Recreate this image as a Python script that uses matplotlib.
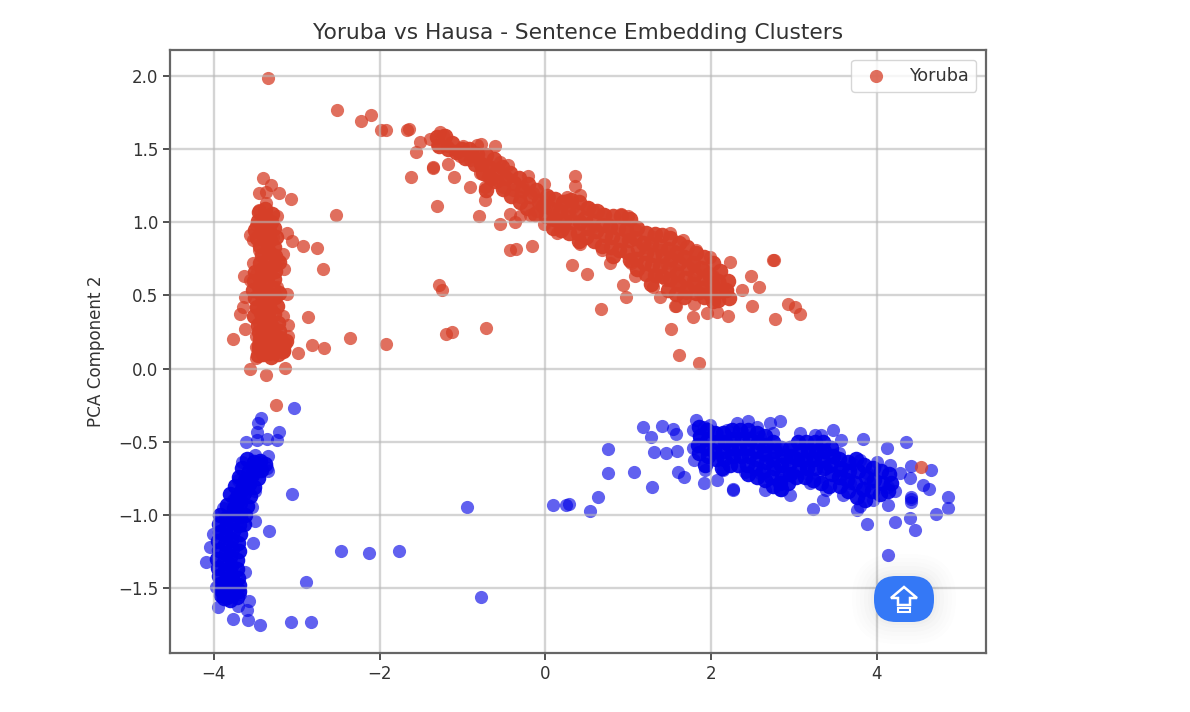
#Yoruba vs Hausa PCA scatter
import matplotlib
matplotlib.use("Agg")
import matplotlib.pyplot as plt
from matplotlib.patches import FancyBboxPatch, Polygon
from matplotlib.transforms import IdentityTransform

#Yoruba
yoruba_x = [-3.35, -2.51, -2.23, -2.10, -1.98, -1.92, -1.67, -1.65, -1.56, -1.615, -1.355, -1.35, -1.10, -0.91, -1.31,
            -0.80, -0.73, -0.61, -0.55, -0.43, -0.35, -0.155, -0.37, -1.28, -1.245, -1.20, -1.13, -0.72,
            -1.515, -1.39, -1.27, -1.23, -1.31, -1.19, -1.07, -0.99, -0.83, -0.77, -1.03, -0.91, -1.18, -0.75,
            -0.67, -0.55, -0.45, -0.79, -0.69, -0.57, -0.47, -0.73, -0.51, -0.39, -0.21, -0.27, -0.02, -0.15,
            -0.07, -0.31, -0.43, -0.31, -0.19, -0.10, 0.01, -0.01, 0.14, 0.26, 0.22, 0.14, 0.30, 0.10, 0.05,
            0.36, 0.36, 0.42, 0.26, 0.34, 0.50, 0.58, 0.70, 0.92, 1.00, 0.42, 0.58, 0.78, 0.98, 1.10, 0.175,
            0.42, 0.68, 0.78, 1.04, 0.32, 0.50, 0.94, 0.98, 0.67, 1.08, 1.50, 1.66, 1.82, 1.99,
            1.30, 1.38, 1.22, 1.54, 1.70, 1.46, 1.58, 1.78, 1.91, 2.03, 1.34, 1.46, 1.30, 1.58, 1.78, 1.95, 2.11,
            2.19, 2.03, 1.87, 1.70, 1.38, 1.56, 1.58, 1.80, 1.78, 1.95, 2.07, 2.21, 2.23, 2.48, 2.58, 2.37, 2.49,
            2.76, 2.75, 2.77, 2.93, 3.01, 3.08, 1.52, 1.62, 1.86,
            -3.41, -3.31, -3.45, -3.37, -3.22, -3.07, -3.37, -3.45, -3.24, -3.37, -3.49, -3.32, -3.57, -3.12,
            -3.06, -2.92, -2.76, -2.68, -2.53, -3.53, -3.41, -3.29, -3.45, -3.17, -3.23, -3.525, -3.15, -3.64,
            -3.49, -3.33, -3.41, -3.57, -3.24, -3.12, -3.625, -3.46, -3.32, -3.65, -3.69, -3.49, -3.33, -3.17,
            -2.87, -3.10, -3.62, -3.45, -3.29, -3.77, -3.49, -3.10, -3.20, -3.32, -3.49, -2.82, -2.98, -2.67,
            -2.36, -1.925, -3.49, -3.57, -3.14, -3.37, -3.25, 4.54]
yoruba_y = [1.99, 1.765, 1.695, 1.735, 1.63, 1.63, 1.63, 1.64, 1.48, 1.31, 1.37, 1.38, 1.31, 1.24, 1.11,
            1.04, 1.15, 1.52, 0.99, 0.81, 0.82, 0.835, 1.00, 0.575, 0.537, 0.237, 0.253, 0.275,
            1.55, 1.57, 1.62, 1.60, 1.53, 1.52, 1.49, 1.52, 1.53, 1.535, 1.45, 1.425, 1.40, 1.40,
            1.38, 1.415, 1.39, 1.335, 1.31, 1.28, 1.31, 1.24, 1.24, 1.22, 1.32, 1.24, 1.26, 1.20,
            1.15, 1.175, 1.06, 1.04, 1.05, 1.08, 1.11, 0.99, 1.08, 1.15, 0.97, 0.925, 1.04, 1.015, 1.175,
            1.316, 1.245, 1.19, 1.175, 1.105, 1.105, 1.085, 1.06, 1.06, 1.04, 0.99, 0.97, 0.98, 0.97, 0.945, 1.015,
            0.855, 0.81, 0.72, 0.72, 0.71, 0.65, 0.575, 0.49, 0.41, 0.63, 0.925, 0.88, 0.81, 0.765,
            0.90, 0.81, 0.83, 0.81, 0.765, 0.72, 0.675, 0.70, 0.675, 0.63, 0.63, 0.605, 0.56, 0.58, 0.605, 0.58, 0.58,
            0.54, 0.515, 0.515, 0.515, 0.49, 0.43, 0.43, 0.445, 0.355, 0.38, 0.39, 0.36, 0.73, 0.63, 0.56, 0.54, 0.43,
            0.74, 0.74, 0.34, 0.44, 0.42, 0.375, 0.27, 0.093, 0.04,
            1.30, 1.255, 1.20, 1.21, 1.20, 1.157, 1.13, 1.085, 1.04, 1.04, 0.98, 0.98, 0.91, 0.93,
            0.875, 0.835, 0.825, 0.68, 1.05, 0.88, 0.90, 0.90, 0.81, 0.785, 0.74, 0.72, 0.68, 0.635,
            0.65, 0.65, 0.58, 0.605, 0.56, 0.51, 0.49, 0.515, 0.49, 0.42, 0.37, 0.42, 0.40, 0.36,
            0.35, 0.30, 0.27, 0.31, 0.29, 0.20, 0.22, 0.22, 0.17, 0.14, 0.15, 0.16, 0.11, 0.14,
            0.21, 0.17, 0.07, 0.00, 0.006, -0.045, -0.25, -0.675]

#the thick part of the upper arc, same line structure in both lists
arc_x = [-1.31, -1.28, -1.21, -1.18, -1.12, -1.08, -1.01, -0.97, -0.92, -0.88, -0.85,
         -0.82, -0.78, -0.75, -0.72, -0.68, -0.66, -0.71, -0.62, -0.58, -0.61,
         -0.52, -0.48, -0.51, -0.42, -0.38, -0.41, -0.32, -0.28, -0.31, -0.21, -0.18, -0.22,
         -0.11, -0.08, -0.12, 0.02, -0.03, 0.01, 0.12, 0.08, 0.11, 0.09, 0.21, 0.18, 0.22, 0.19,
         0.31, 0.28, 0.32, 0.29, 0.41, 0.38, 0.42, 0.39, 0.41, 0.51, 0.48, 0.52, 0.49,
         0.62, 0.58, 0.61, 0.59, 0.71, 0.68, 0.72, 0.69, 0.82, 0.78, 0.81, 0.79, 0.82,
         0.91, 0.88, 0.92, 0.89, 1.02, 0.98, 1.01, 0.99, 1.02, 1.11, 1.08, 1.12, 1.09, 1.11,
         1.21, 1.18, 1.22, 1.19, 1.21, 1.32, 1.28, 1.31, 1.29, 1.32, 1.28,
         1.41, 1.38, 1.42, 1.39, 1.41, 1.51, 1.48, 1.52, 1.49, 1.51, 1.48,
         1.62, 1.58, 1.61, 1.59, 1.62, 1.58, 1.71, 1.68, 1.72, 1.69, 1.71, 1.68,
         1.82, 1.78, 1.81, 1.79, 1.82, 1.91, 1.88, 1.92, 1.89, 1.91,
         2.02, 1.98, 2.01, 1.99, 2.02, 2.11, 2.08, 2.12, 2.09, 2.21, 2.18, 2.22]
arc_y = [1.58, 1.52, 1.59, 1.50, 1.54, 1.48, 1.50, 1.44, 1.50, 1.46, 1.40,
         1.47, 1.40, 1.34, 1.46, 1.38, 1.30, 1.22, 1.43, 1.36, 1.28,
         1.38, 1.30, 1.23, 1.34, 1.27, 1.18, 1.30, 1.22, 1.14, 1.26, 1.18, 1.10,
         1.22, 1.14, 1.06, 1.18, 1.11, 1.04, 1.16, 1.09, 1.02, 0.96, 1.14, 1.08, 1.01, 0.95,
         1.15, 1.08, 1.00, 0.93, 1.14, 1.07, 1.00, 0.93, 0.87, 1.10, 1.03, 0.96, 0.90,
         1.08, 1.01, 0.94, 0.87, 1.05, 0.98, 0.91, 0.84, 1.04, 0.97, 0.90, 0.83, 0.77,
         1.04, 0.96, 0.88, 0.81, 1.02, 0.95, 0.88, 0.80, 0.74, 0.96, 0.89, 0.82, 0.75, 0.68,
         0.93, 0.86, 0.79, 0.72, 0.65, 0.92, 0.85, 0.78, 0.71, 0.64, 0.58,
         0.91, 0.84, 0.77, 0.70, 0.63, 0.89, 0.82, 0.75, 0.68, 0.61, 0.54,
         0.86, 0.79, 0.72, 0.65, 0.58, 0.51, 0.83, 0.76, 0.69, 0.62, 0.55, 0.49,
         0.79, 0.72, 0.65, 0.58, 0.52, 0.76, 0.69, 0.62, 0.55, 0.49,
         0.72, 0.65, 0.58, 0.51, 0.46, 0.67, 0.60, 0.53, 0.47, 0.60, 0.54, 0.48]

#the thick part of the left column
column_x = [-3.46, -3.38, -3.30, -3.47, -3.39, -3.31, -3.50, -3.42, -3.34, -3.27, -3.48, -3.40, -3.32, -3.25,
            -3.44, -3.36, -3.28, -3.42, -3.34, -3.26, -3.44, -3.36, -3.28, -3.21, -3.50, -3.42, -3.34, -3.26,
            -3.52, -3.44, -3.36, -3.28, -3.53, -3.45, -3.37, -3.29, -3.22, -3.50, -3.42, -3.34, -3.26,
            -3.48, -3.40, -3.32, -3.24, -3.51, -3.43, -3.35, -3.27, -3.47, -3.39, -3.31, -3.23,
            -3.46, -3.38, -3.30, -3.22, -3.44, -3.36, -3.28, -3.20, -3.46, -3.38, -3.30, -3.22, -3.15,
            -3.47, -3.39, -3.31, -3.23, -3.16, -3.45, -3.37, -3.29, -3.21, -3.13, -3.41, -3.33, -3.25, -3.17]
column_y = [1.07, 1.09, 1.06, 1.01, 1.03, 1.00, 0.95, 0.97, 0.94, 0.96, 0.89, 0.91, 0.88, 0.90,
            0.84, 0.86, 0.83, 0.78, 0.80, 0.77, 0.72, 0.74, 0.71, 0.73, 0.66, 0.68, 0.65, 0.67,
            0.60, 0.62, 0.59, 0.61, 0.54, 0.56, 0.53, 0.55, 0.52, 0.48, 0.50, 0.47, 0.49,
            0.42, 0.44, 0.41, 0.43, 0.36, 0.38, 0.35, 0.37, 0.30, 0.32, 0.29, 0.31,
            0.25, 0.27, 0.24, 0.26, 0.20, 0.22, 0.19, 0.21, 0.14, 0.16, 0.13, 0.15, 0.17,
            0.09, 0.11, 0.08, 0.10, 0.12, 0.16, 0.18, 0.12, 0.14, 0.19, 0.10, 0.11, 0.12, 0.13]

#Hausa
hausa_x = [-3.035, -3.43, -3.47, -3.22, -3.48, -3.365, -3.24, -3.615, -3.48, -3.505, -3.345, -3.655, -3.445, -3.365,
           -3.465, -3.345, -3.71, -3.565, -3.645, -3.505, -3.055, -3.69, -3.77, -3.89, -3.73, -3.545,
           -3.50, -3.33, -3.53, -3.63, -4.09, -4.01, -4.05, -3.97, -3.95, -3.87, -3.69, -3.58, -3.71, -3.60,
           -3.77, -3.59, -3.44, -3.07, -2.83, -2.89, -2.47, -2.13, -1.765, -0.94, -0.78, 0.095, 0.255,
           0.29, 0.54, 0.64, 0.76, 0.76, 1.07, 1.18, 1.28, 1.41, 1.54, 1.58, 1.31, 1.455, 1.59, 1.29, 1.60, 1.67,
           1.91, 2.07, 2.27, 2.27, 1.82, 1.78, 1.91, 1.99, 1.86, 1.78, 1.80, 1.93, 1.94, 2.07, 2.19, 2.31, 2.45,
           2.55, 2.71, 2.83, 2.07, 2.23, 2.39, 2.59, 2.75, 2.15, 2.27, 2.41, 2.59, 2.43, 2.63, 2.79, 2.75, 2.83,
           2.83, 2.65, 2.96, 3.07, 3.25, 3.33, 3.47, 3.57, 3.83, 2.99, 3.15, 3.31, 3.43, 2.91, 3.07, 3.23, 3.39,
           2.99, 3.15, 3.31, 3.19, 3.39, 3.23, 3.35, 3.59, 3.55, 3.55, 3.72, 3.80, 3.88, 3.68, 3.84, 3.76, 3.80,
           3.88, 3.96, 4.00, 3.92, 4.12, 4.36, 4.16, 4.14, 4.14, 4.22, 4.22, 4.28, 4.40, 4.42, 4.66, 4.56, 4.63,
           4.42, 4.42, 4.42, 4.40, 4.46, 4.86, 4.86, 4.72, 4.14]
hausa_y = [-0.27, -0.335, -0.37, -0.43, -0.43, -0.48, -0.49, -0.505, -0.49, -0.59, -0.595, -0.64, -0.635, -0.68,
           -0.69, -0.70, -0.76, -0.75, -0.81, -0.84, -0.86, -0.89, -0.90, -0.955, -0.94, -0.945,
           -1.04, -1.11, -1.19, -1.39, -1.32, -1.13, -1.22, -1.49, -1.63, -1.54, -1.54, -1.59, -1.62, -1.65,
           -1.71, -1.72, -1.75, -1.735, -1.73, -1.46, -1.245, -1.26, -1.245, -0.945, -1.56, -0.93, -0.93,
           -0.925, -0.97, -0.88, -0.55, -0.715, -0.705, -0.40, -0.47, -0.39, -0.41, -0.45, -0.57, -0.575, -0.56, -0.81, -0.71, -0.74,
           -0.78, -0.76, -0.83, -0.82, -0.35, -0.42, -0.40, -0.385, -0.465, -0.545, -0.625, -0.69, -0.53, -0.44, -0.42, -0.375, -0.36,
           -0.40, -0.375, -0.355, -0.58, -0.49, -0.44, -0.465, -0.44, -0.69, -0.56, -0.705, -0.715, -0.53, -0.555, -0.535, -0.65, -0.76,
           -0.83, -0.83, -0.865, -0.44, -0.455, -0.455, -0.42, -0.49, -0.48, -0.535, -0.535, -0.555, -0.60, -0.625, -0.625, -0.625, -0.67,
           -0.715, -0.715, -0.74, -0.785, -0.83, -0.96, -0.90, -0.865, -0.58, -0.69, -0.65, -0.625, -0.715, -0.785, -0.83, -0.965, -0.94,
           -1.06, -0.90, -0.635, -0.785, -0.54, -0.505, -0.66, -0.81, -0.93, -0.84, -1.05, -0.715, -0.75, -0.665, -0.69, -0.795, -0.82,
           -0.875, -0.89, -0.91, -1.02, -1.10, -0.875, -0.955, -0.995, -1.275]

#the thick foot of the left blue column
foot_x = [-3.93, -3.85, -3.77, -3.69, -3.62, -3.94, -3.86, -3.78, -3.70, -3.64, -3.93, -3.85, -3.77, -3.69,
          -3.95, -3.87, -3.79, -3.71, -3.94, -3.86, -3.78, -3.70, -3.96, -3.88, -3.80, -3.72,
          -3.95, -3.87, -3.79, -3.72, -3.94, -3.86, -3.78, -3.71, -3.93, -3.85, -3.77, -3.70,
          -3.92, -3.84, -3.76, -3.70, -3.92, -3.84, -3.77, -3.88, -3.80, -3.72,
          -3.84, -3.76, -3.68, -3.60, -3.80, -3.72, -3.64, -3.56, -3.74, -3.66, -3.58, -3.52,
          -3.70, -3.62, -3.54, -3.47, -3.66, -3.58, -3.50, -3.43, -3.60, -3.52, -3.44, -3.38]
foot_y = [-1.00, -1.02, -0.99, -1.01, -1.00, -1.06, -1.08, -1.05, -1.07, -1.06, -1.12, -1.14, -1.11, -1.13,
          -1.18, -1.20, -1.17, -1.19, -1.24, -1.26, -1.23, -1.25, -1.30, -1.32, -1.29, -1.31,
          -1.36, -1.38, -1.35, -1.37, -1.42, -1.44, -1.41, -1.43, -1.47, -1.49, -1.46, -1.48,
          -1.51, -1.53, -1.50, -1.52, -1.55, -1.56, -1.54, -1.57, -1.58, -1.56,
          -0.93, -0.95, -0.92, -0.94, -0.86, -0.88, -0.85, -0.87, -0.80, -0.82, -0.79, -0.81,
          -0.74, -0.76, -0.73, -0.75, -0.68, -0.70, -0.67, -0.69, -0.62, -0.64, -0.63, -0.65]

#the thick part of the right blue band
band_x = [1.85, 1.87, 1.84, 1.86, 1.95, 1.97, 1.94, 1.96, 1.93, 2.05, 2.07, 2.04, 2.06,
          2.15, 2.17, 2.14, 2.16, 2.13, 2.25, 2.27, 2.24, 2.26, 2.23, 2.35, 2.37, 2.34, 2.36, 2.33,
          2.45, 2.47, 2.44, 2.46, 2.43, 2.45, 2.55, 2.57, 2.54, 2.56, 2.53, 2.55,
          2.65, 2.67, 2.64, 2.66, 2.63, 2.65, 2.75, 2.77, 2.74, 2.76, 2.73, 2.75,
          2.85, 2.87, 2.84, 2.86, 2.83, 2.85, 2.95, 2.97, 2.94, 2.96, 2.93,
          3.05, 3.07, 3.04, 3.06, 3.03, 3.15, 3.17, 3.14, 3.16, 3.13, 3.25, 3.27, 3.24, 3.26, 3.23,
          3.35, 3.37, 3.34, 3.36, 3.33, 3.45, 3.47, 3.44, 3.46, 3.43, 3.55, 3.57, 3.54, 3.56,
          3.65, 3.67, 3.64, 3.66, 3.75, 3.77, 3.74, 3.76, 3.85, 3.87, 3.84, 3.86,
          3.95, 3.97, 3.94, 4.05, 4.07, 4.04, 4.15, 4.17, 4.14]
band_y = [-0.40, -0.46, -0.52, -0.58, -0.42, -0.48, -0.54, -0.60, -0.66, -0.44, -0.50, -0.56, -0.62,
          -0.44, -0.50, -0.56, -0.62, -0.68, -0.42, -0.48, -0.54, -0.60, -0.66, -0.42, -0.48, -0.54, -0.60, -0.66,
          -0.42, -0.48, -0.54, -0.60, -0.66, -0.72, -0.44, -0.50, -0.56, -0.62, -0.68, -0.74,
          -0.46, -0.52, -0.58, -0.64, -0.70, -0.76, -0.50, -0.56, -0.62, -0.68, -0.74, -0.80,
          -0.54, -0.60, -0.66, -0.72, -0.78, -0.82, -0.54, -0.60, -0.66, -0.72, -0.78,
          -0.50, -0.56, -0.62, -0.68, -0.74, -0.50, -0.56, -0.62, -0.68, -0.74, -0.50, -0.56, -0.62, -0.68, -0.76,
          -0.50, -0.56, -0.62, -0.68, -0.78, -0.54, -0.60, -0.66, -0.72, -0.80, -0.62, -0.68, -0.74, -0.80,
          -0.64, -0.70, -0.76, -0.84, -0.62, -0.70, -0.78, -0.88, -0.66, -0.74, -0.82, -0.90,
          -0.68, -0.76, -0.84, -0.70, -0.78, -0.86, -0.72, -0.78, -0.84]

xticks_val = [-4, -2, 0, 2, 4]
yticks_val = [-1.5, -1.0, -0.5, 0.0, 0.5, 1.0, 1.5, 2.0]

red = "#d63f28"
blue = "#0000e6"

fig = plt.figure(figsize=(11.9, 7.12), dpi=100)
ax = fig.add_axes([170 / 1190, 1 - 653 / 712, 816 / 1190, 603 / 712])

#thick parts first and nearly opaque, they are solid colour in the picture
ax.scatter(foot_x + band_x, foot_y + band_y, s=125, color=blue, alpha=0.92, linewidths=0)
ax.scatter(hausa_x, hausa_y, s=90, color=blue, alpha=0.62, linewidths=0)
ax.scatter(arc_x + column_x, arc_y + column_y, s=125, color=red, alpha=0.95, linewidths=0)
ax.scatter(yoruba_x, yoruba_y, s=90, color=red, alpha=0.75, linewidths=0, label="Yoruba")

ax.set_xlim(-4.53, 5.32)
ax.set_ylim(-1.944, 2.178)
ax.set_xticks(xticks_val)
ax.set_yticks(yticks_val)
ax.grid(True, color="#b8b8b8", linewidth=1.7, alpha=0.6)
ax.tick_params(labelsize=12, colors="#333333", length=5, width=1.2)
for s in ax.spines.values():
    s.set_color("#666666")
    s.set_linewidth(1.6)

ax.set_title("Yoruba vs Hausa - Sentence Embedding Clusters", fontsize=15.7, color="#333333", pad=8)
ax.set_ylabel("PCA Component 2", fontsize=12.1, color="#333333", labelpad=9)
ax.legend(loc="upper right", fontsize=12.7, handletextpad=0.9, labelcolor="#333333", borderaxespad=0.55)

#scroll-to-top button, in screen pixels from the top left
tr = IdentityTransform()
H = 712
for grow, a in [(22, 0.006), (18, 0.007), (14, 0.008), (10, 0.01), (6, 0.012), (3, 0.015)]:
    fig.add_artist(FancyBboxPatch((896, H - 600), 16, 2,
                                  boxstyle="round,pad=%d,rounding_size=%d" % (22 + grow, 22 + grow), transform=tr,
                                  facecolor="black", edgecolor="none", alpha=a))
fig.add_artist(FancyBboxPatch((896, H - 600), 16, 2, boxstyle="round,pad=22,rounding_size=22", transform=tr,
                              facecolor="#3478f6", edgecolor="none"))
arrow = [(904, 587), (917, 598), (910, 598), (910, 605), (898, 605), (898, 598), (891, 598)]
fig.add_artist(Polygon([(a, H - b) for a, b in arrow], closed=True, transform=tr,
                       facecolor="none", edgecolor="white", linewidth=1.8))
base = [(898, 608), (910, 608), (910, 612), (898, 612)]
fig.add_artist(Polygon([(a, H - b) for a, b in base], closed=True, transform=tr,
                       facecolor="none", edgecolor="white", linewidth=1.5))

fig.savefig("out.png", dpi=100)
